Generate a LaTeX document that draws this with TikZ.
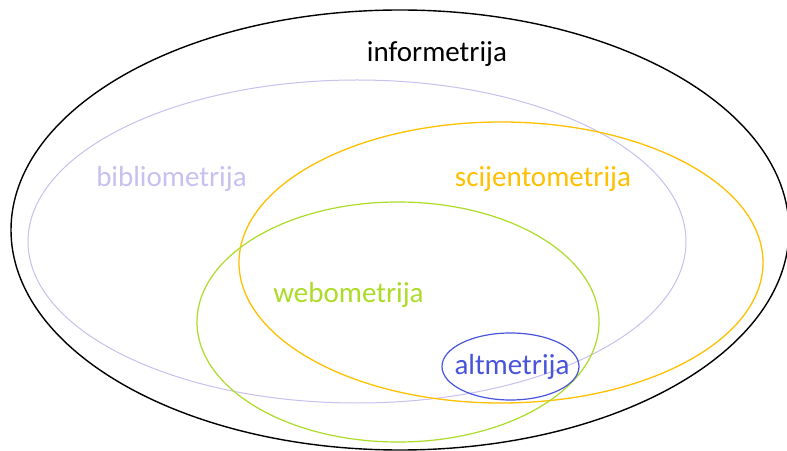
\documentclass[tikz,border=0pt]{standalone}
\usepackage{fontspec}
\setmainfont{Carlito}
\definecolor{lav}{RGB}{200,192,238}
\definecolor{yel}{RGB}{255,192,0}
\definecolor{grn}{RGB}{172,220,40}
\definecolor{blu}{RGB}{72,84,220}
\tikzset{lbl/.style={anchor=base,inner sep=0pt,font=\fontsize{29}{33}\selectfont}}
\begin{document}
\begin{tikzpicture}[x=1pt,y=1pt]
\useasboundingbox (0,0) rectangle (787,450);
\fill[white] (0,0) rectangle (787,450);
\draw[black,line width=1.4pt] (400,220) ellipse [x radius=389, y radius=220];
\draw[lav,line width=1pt] (357,208.5) ellipse [x radius=329, y radius=161.5];
\draw[yel,line width=1.3pt] (501,187.5) ellipse [x radius=262, y radius=140.5];
\draw[grn,line width=1.2pt] (398,128) ellipse [x radius=201, y radius=120];
\draw[blu,line width=1.2pt] (510.5,83.5) ellipse [x radius=68.5, y radius=33.5];
\node[lbl,text=black] (info) at (437,388) {informetrija};
\node[lbl,text=lav] (biblio) at (171.5,263) {bibliometrija};
\node[lbl,text=yel] (scien) at (543,263) {scijentometrija};
\node[lbl,text=grn] (webo) at (348.5,147) {webometrija};
\node[lbl,text=blu] (alt) at (512,76) {altmetrija};
\end{tikzpicture}
\end{document}
